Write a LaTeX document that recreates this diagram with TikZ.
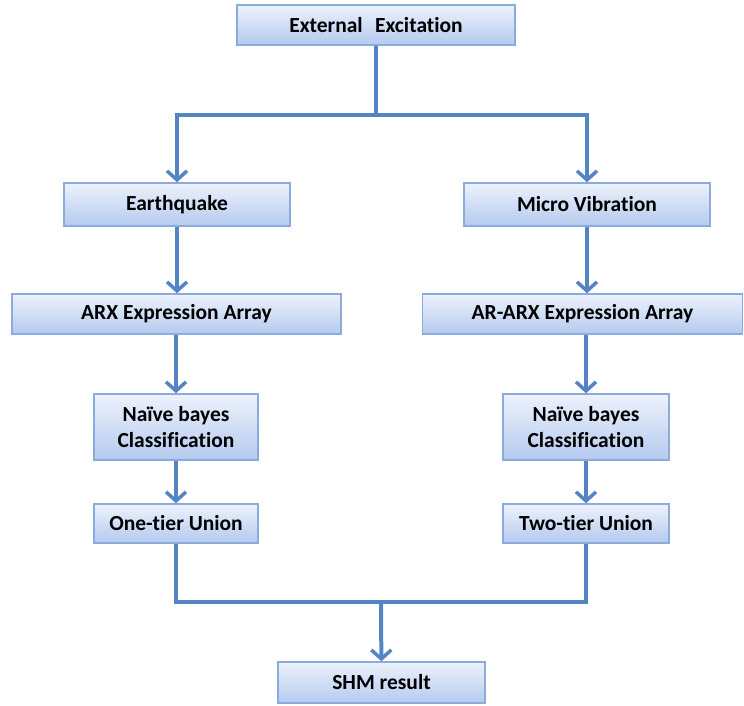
\documentclass[tikz,border=0pt]{standalone}
\usepackage{fontspec}
\setmainfont{Carlito}[Ligatures=NoCommon]
\usepackage{tikz}
\usetikzlibrary{positioning,arrows.meta}

\definecolor{boxtop}{HTML}{EDF2FC}
\definecolor{boxbot}{HTML}{B4CAEE}
\definecolor{boxline}{HTML}{8AABDB}
\definecolor{flowline}{HTML}{5584C4}

\tikzset{
  stage/.style={draw=boxline, line width=1.5pt, top color=boxtop, bottom color=boxbot,
    inner sep=0pt, align=center, font=\fontsize{21.5}{26}\selectfont\bfseries},
  link/.style={draw=flowline, line width=4pt},
  flow/.style={link, -{Straight Barb[length=9pt,width=20pt,line width=3.5pt]}}
}

\begin{document}
\begin{tikzpicture}[x=1pt,y=1pt]
                \useasboundingbox (0,0) rectangle (744,-705);
                % boxes
                \node[stage, minimum width=278, minimum height=40] (ext) at (376,-25) {External\hspace{0.35em} Excitation};
                \node[stage, minimum width=226, minimum height=43] (eq) at (177,-204.5) {Earthquake};
                \node[stage, minimum width=246, minimum height=43] (mv) at (587,-204.5) {Micro Vibration};
                \node[stage, minimum width=329, minimum height=40] (arxl) at (176.5,-314) {ARX Expression Array};
                \node[stage, minimum width=320, minimum height=40] (arxr) at (582.5,-314) {AR-ARX Expression Array};
                \node[stage, minimum width=164, minimum height=66] (nbl) at (176,-427) {Naïve bayes\\Classification};
                \node[stage, minimum width=166, minimum height=66] (nbr) at (586,-427) {Naïve bayes\\Classification};
                \node[stage, minimum width=164, minimum height=39] (otu) at (176,-523.5) {One-tier Union};
                \node[stage, minimum width=166, minimum height=39] (ttu) at (586,-523.5) {Two-tier Union};
                \node[stage, minimum width=207, minimum height=41] (shm) at (381.5,-682.5) {SHM result};
                % connectors
                \coordinate (split) at (376,-115);
                \coordinate (join) at (381,-602);
                \draw[link] (ext) -- (split);
                \draw[flow] (split) -| (eq);
                \draw[flow] (split) -| (mv);
                \draw[flow] (eq) -- (arxl.north -| eq);
                \draw[flow] (mv) -- (arxr.north -| mv);
                \draw[flow] (arxl.south -| nbl) -- (nbl);
                \draw[flow] (arxr.south -| nbr) -- (nbr);
                \draw[flow] (nbl) -- (otu);
                \draw[flow] (nbr) -- (ttu);
                \draw[link] (otu) |- (join);
                \draw[link] (ttu) |- (join);
                \draw[flow] (join) -- (shm);
            \end{tikzpicture}
\end{document}
